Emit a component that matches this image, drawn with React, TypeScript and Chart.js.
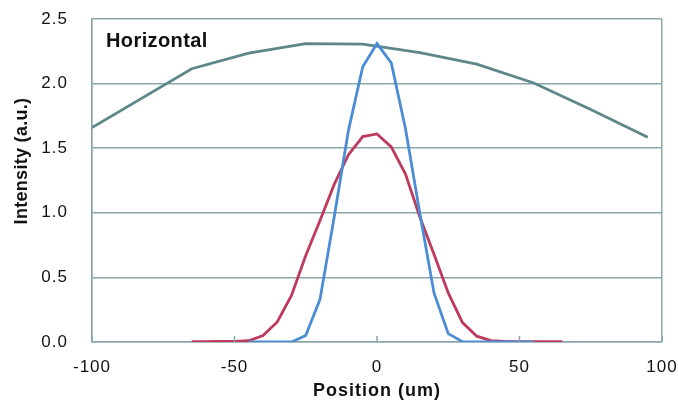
import React, { useEffect, useRef } from "react";
import { Chart, registerables } from "chart.js";

Chart.register(...registerables);

const chartLabel = "Horizontal";
const xTitle = "Position (um)";
const yTitle = "Intensity (a.u.)";

const grayX = [-100, -65, -45, -25, -5, 15, 35, 55, 75, 95];
const grayY = [1.66, 2.115, 2.235, 2.31, 2.305, 2.24, 2.15, 2.005, 1.8, 1.585];

const redX = [-65, -60, -55, -50, -45, -40, -35, -30, -25, -20, -15, -10, -5, 0, 5, 10, 15, 20, 25, 30, 35, 40, 45, 50, 55, 60, 65];
const redY = [0.003, 0.003, 0.004, 0.005, 0.01, 0.05, 0.155, 0.36, 0.67, 0.94, 1.22, 1.45, 1.59, 1.61, 1.51, 1.3, 0.97, 0.68, 0.38, 0.15, 0.045, 0.01, 0.004, 0.003, 0.003, 0.003, 0.003];

const blueX = [-45, -40, -35, -30, -25, -20, -15, -10, -5, 0, 5, 10, 15, 20, 25, 30, 35, 40, 45, 50, 55];
const blueY = [0, 0, 0, 0, 0.05, 0.33, 0.97, 1.64, 2.13, 2.31, 2.16, 1.65, 1.0, 0.38, 0.065, 0.003, 0, 0, 0, 0, 0];

const xTicks = [-100, -50, 0, 50, 100];
const yTicks = [0, 0.5, 1.0, 1.5, 2.0, 2.5];

const GRID = "#8ba6ab";
const TEXT = "#111111";

const toPts = (xs: number[], ys: number[]) => xs.map((x, i) => ({ x, y: ys[i] }));

const annotPlugin = {
  id: "annot",
  beforeDraw(chart: any) {
    chart.ctx.letterSpacing = "1px";
  },
  afterDraw(chart: any) {
    const { ctx, scales, chartArea } = chart;
    ctx.save();
    ctx.letterSpacing = "0px";
    // inner tick marks on x axis
    ctx.strokeStyle = GRID;
    ctx.lineWidth = 1.5;
    xTicks.forEach((v) => {
      const px = scales.x.getPixelForValue(v);
      ctx.beginPath();
      ctx.moveTo(px, chartArea.bottom);
      ctx.lineTo(px, chartArea.bottom - 6);
      ctx.stroke();
    });
    // label in plot
    ctx.fillStyle = TEXT;
    ctx.font = "bold 20px 'Liberation Sans', Arial, sans-serif";
    ctx.letterSpacing = "0.4px";
    ctx.textAlign = "left";
    ctx.textBaseline = "alphabetic";
    ctx.fillText(chartLabel, chartArea.left + 14, chartArea.top + 28);
    // y title
    ctx.font = "bold 18px 'Liberation Sans', Arial, sans-serif";
    ctx.letterSpacing = "0.3px";
    ctx.translate(22, 161);
    ctx.rotate(-Math.PI / 2);
    ctx.textAlign = "center";
    ctx.textBaseline = "middle";
    ctx.fillText(yTitle, 0, 0);
    ctx.restore();
  },
};

export default function App() {
  const ref = useRef<HTMLCanvasElement | null>(null);
  useEffect(() => {
    if (!ref.current) return;
    const chart = new Chart(ref.current, {
      type: "scatter",
      data: {
        datasets: [
          {
            label: "Gray",
            data: toPts(grayX, grayY),
            showLine: true,
            borderColor: "#5e878a",
            borderWidth: 2.8,
            pointRadius: 0,
            order: 3,
          },
          {
            label: "Red",
            data: toPts(redX, redY),
            showLine: true,
            borderColor: "#bd3a5b",
            borderWidth: 2.8,
            pointRadius: 0,
            order: 2,
          },
          {
            label: "Blue",
            data: toPts(blueX, blueY),
            showLine: true,
            borderColor: "#4a8dd4",
            borderWidth: 2.8,
            pointRadius: 0,
            order: 1,
          },
        ],
      },
      options: {
        animation: false,
        responsive: false,
        layout: { padding: { left: 0, right: 16, top: 19, bottom: 0 } },
        plugins: { legend: { display: false }, tooltip: { enabled: false } },
        scales: {
          x: {
            type: "linear",
            min: -100,
            max: 100,
            afterBuildTicks: (s: any) => {
              s.ticks = xTicks.map((v) => ({ value: v }));
            },
            afterFit: (s: any) => {
              s.height = 60;
              s.paddingLeft = 0;
              s.paddingRight = 0;
            },
            ticks: {
              color: TEXT,
              padding: 15,
              font: { family: "'Liberation Sans', Arial, sans-serif", size: 17 },
              maxRotation: 0,
            },
            grid: {
              drawTicks: false,
              lineWidth: 1.5,
              color: (c: any) => (c.tick && (c.tick.value === 100 || c.tick.value === -100) ? GRID : "rgba(0,0,0,0)"),
            },
            border: { display: true, color: GRID, width: 1.5 },
            title: {
              display: true,
              text: xTitle,
              color: TEXT,
              padding: { top: 0, bottom: 0 },
              font: { family: "'Liberation Sans', Arial, sans-serif", size: 18, weight: "bold" },
            },
          },
          y: {
            type: "linear",
            min: 0,
            max: 2.5,
            afterBuildTicks: (s: any) => {
              s.ticks = yTicks.map((v) => ({ value: v }));
            },
            afterFit: (s: any) => {
              s.width = 92;
              s.paddingTop = 0;
              s.paddingBottom = 0;
            },
            ticks: {
              color: TEXT,
              padding: 24,
              font: { family: "'Liberation Sans', Arial, sans-serif", size: 17 },
              callback: (v: any) => Number(v).toFixed(1),
            },
            grid: { drawTicks: false, color: GRID, lineWidth: 1.5 },
            border: { display: true, color: GRID, width: 1.5 },
            title: { display: false },
          },
        },
      },
      plugins: [annotPlugin],
    });
    return () => chart.destroy();
  }, []);
  return (
    <div style={{ position: "absolute", left: 0, top: 0, width: 678, height: 402, background: "#fff" }}>
      <canvas ref={ref} width={678} height={402} />
    </div>
  );
}
